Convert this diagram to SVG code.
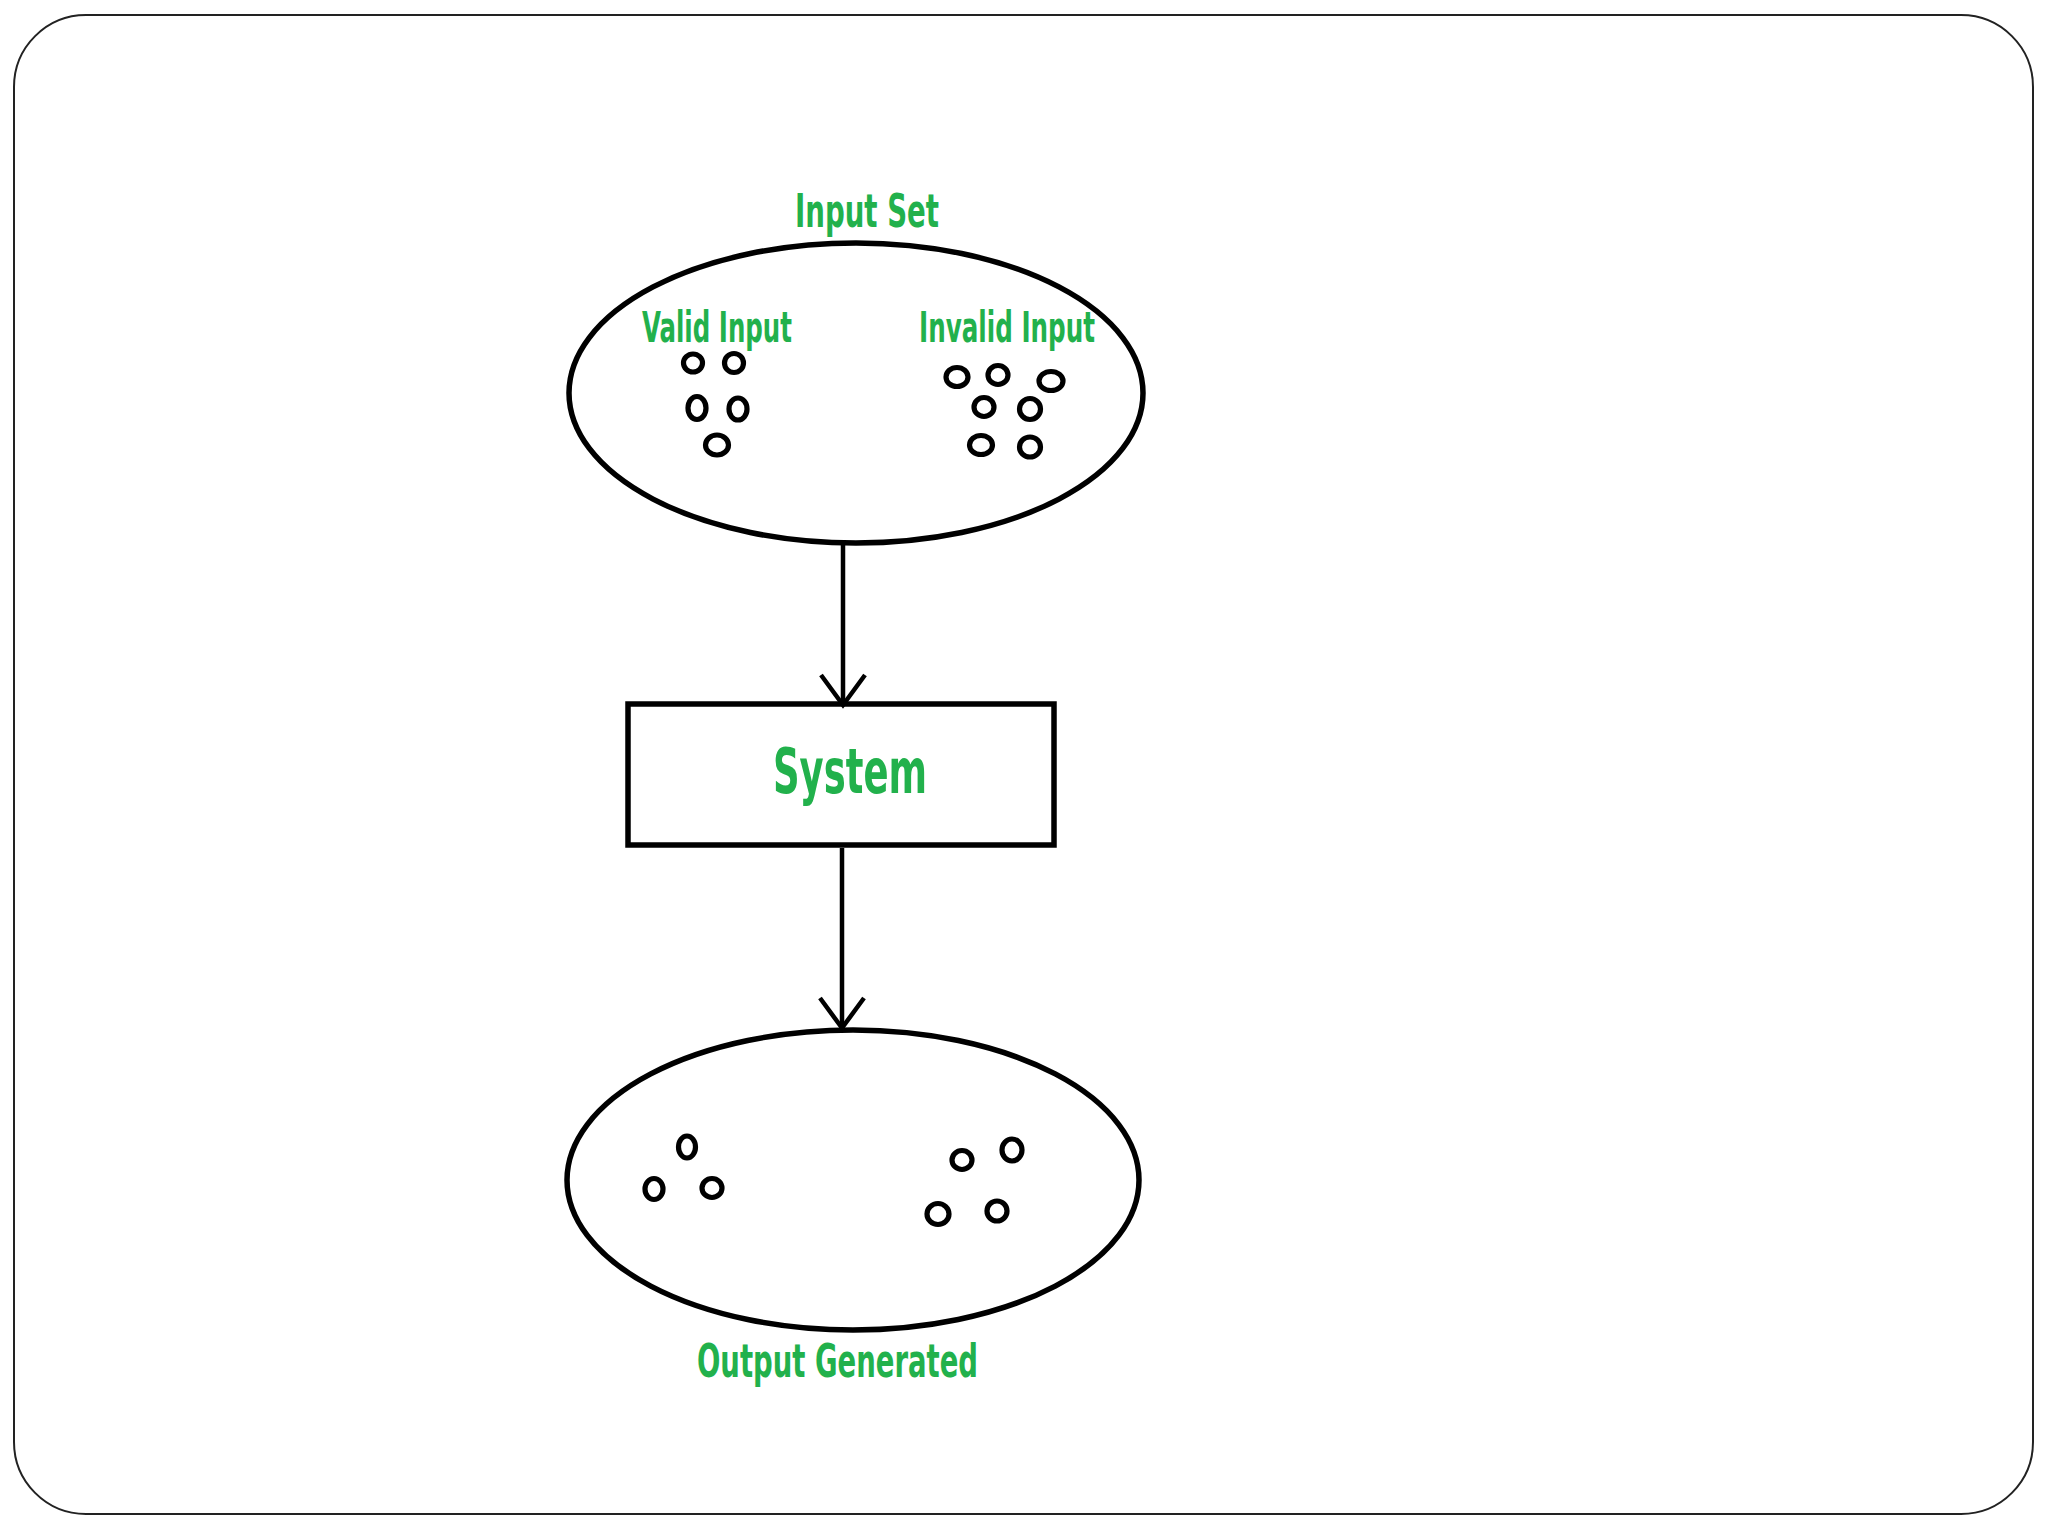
<svg xmlns="http://www.w3.org/2000/svg" width="2048" height="1536" viewBox="0 0 2048 1536">
<style>
.frame{fill:#ffffff;stroke:#222222;stroke-width:2}
.shape{fill:none;stroke:#000000;stroke-width:5.5}
.dot{fill:none;stroke:#000000;stroke-width:5.2}
.conn{fill:none;stroke:#000000;stroke-width:4.5}
.lbl{font-family:"DejaVu Sans Condensed","DejaVu Sans","Liberation Sans",sans-serif;font-weight:bold;fill:#22b14c}
</style>
<defs>
<marker id="vhead" markerUnits="userSpaceOnUse" viewBox="-34 -26 38 52" refX="0" refY="0" markerWidth="38" markerHeight="52" orient="auto" overflow="visible">
<path d="M-30,-22 L0,0 L-30,22" fill="none" stroke="#000000" stroke-width="4.5"/>
</marker>
</defs>
<rect x="0" y="0" width="2048" height="1536" fill="#ffffff"/>
<rect class="frame" x="14" y="15" width="2019" height="1499" rx="72" ry="72"/>

<g id="input-set">
<ellipse class="shape" cx="856" cy="393" rx="287" ry="150"/>
<text class="lbl" x="795" y="227" font-size="47" textLength="144" lengthAdjust="spacingAndGlyphs">Input Set</text>
<g id="valid-input">
<text class="lbl" x="642" y="342" font-size="42" textLength="150" lengthAdjust="spacingAndGlyphs">Valid Input</text>
<ellipse class="dot" cx="693" cy="363" rx="9.5" ry="9"/>
<ellipse class="dot" cx="734" cy="363" rx="9.5" ry="9.5"/>
<ellipse class="dot" cx="697" cy="408" rx="9" ry="11.5"/>
<ellipse class="dot" cx="738" cy="409" rx="9" ry="11"/>
<ellipse class="dot" cx="717" cy="445" rx="11.5" ry="10"/>
</g>
<g id="invalid-input">
<text class="lbl" x="919" y="342" font-size="42" textLength="176" lengthAdjust="spacingAndGlyphs">Invalid Input</text>
<ellipse class="dot" cx="957" cy="377" rx="11" ry="9.5"/>
<ellipse class="dot" cx="998" cy="375" rx="10" ry="9.5"/>
<ellipse class="dot" cx="1051" cy="381" rx="12" ry="9.5"/>
<ellipse class="dot" cx="984" cy="407" rx="10" ry="9.5"/>
<ellipse class="dot" cx="1030" cy="409" rx="10.5" ry="10.5"/>
<ellipse class="dot" cx="981" cy="445" rx="11.5" ry="9.5"/>
<ellipse class="dot" cx="1030" cy="447" rx="10.5" ry="10"/>
</g>
</g>

<g id="system">
<rect class="shape" x="628" y="704" width="426" height="141"/>
<text class="lbl" x="773" y="793" font-size="62" textLength="154" lengthAdjust="spacingAndGlyphs">System</text>
</g>

<g id="output-generated">
<ellipse class="shape" cx="853" cy="1180" rx="286" ry="150"/>
<ellipse class="dot" cx="687" cy="1147" rx="8.5" ry="11"/>
<ellipse class="dot" cx="654" cy="1189" rx="9" ry="10.5"/>
<ellipse class="dot" cx="712" cy="1188" rx="10" ry="9.5"/>
<ellipse class="dot" cx="962" cy="1160" rx="10" ry="9.5"/>
<ellipse class="dot" cx="1012" cy="1150" rx="10" ry="11"/>
<ellipse class="dot" cx="938" cy="1214" rx="11" ry="10.5"/>
<ellipse class="dot" cx="997" cy="1211" rx="10" ry="10"/>
<text class="lbl" x="697" y="1377" font-size="47" textLength="281" lengthAdjust="spacingAndGlyphs">Output Generated</text>
</g>

<g id="connectors">
<line class="conn" x1="843" y1="545" x2="843" y2="705" marker-end="url(#vhead)"/>
<line class="conn" x1="842" y1="848" x2="842" y2="1028" marker-end="url(#vhead)"/>
</g>
</svg>
